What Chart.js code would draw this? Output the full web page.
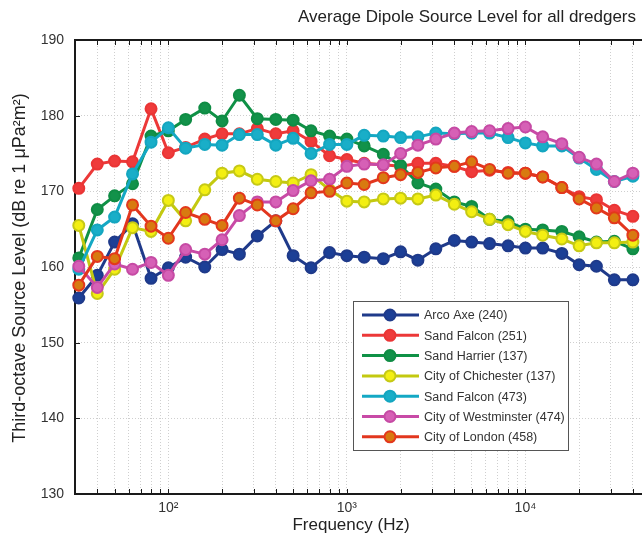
<!DOCTYPE html>
<html>
<head>
<meta charset="utf-8">
<script src="https://cdn.jsdelivr.net/npm/chart.js@4.4.1/dist/chart.umd.min.js"></script>
<style>
  html, body { margin: 0; padding: 0; background: #fff; overflow: hidden; }
  #wrap { width: 642px; height: 538px; position: relative; }
</style>
</head>
<body>
<div id="wrap"><canvas id="dipoleChart" width="642" height="538"></canvas></div>
<script>
// --- values (third-octave band centres, dB) ---
const frequencies = [31.5, 40, 50, 63, 80, 100, 125, 160, 200, 250, 315, 400, 500, 630, 800,
  1000, 1250, 1600, 2000, 2500, 3150, 4000, 5000, 6300, 8000, 10000, 12500, 16000, 20000, 25000, 31500, 40000];

const seriesNames = ['Arco Axe (240)', 'Sand Falcon (251)', 'Sand Harrier (137)', 'City of Chichester (137)',
  'Sand Falcon (473)', 'City of Westminster (474)', 'City of London (458)'];

const arcoAxe = [155.9, 158.9, 163.3, 165.7, 158.5, 159.9, 161.3, 160.0, 162.3, 161.7, 164.1, 166.1, 161.5, 159.9, 161.9,
  161.5, 161.3, 161.1, 162.0, 160.9, 162.4, 163.5, 163.3, 163.1, 162.8, 162.5, 162.5, 161.8, 160.3, 160.1, 158.3, 158.3];
const sandFalcon251 = [170.4, 173.6, 174.0, 173.9, 180.9, 175.1, 175.8, 176.9, 177.6, 177.6, 178.3, 177.6, 178.0, 176.6, 174.7,
  174.2, 173.7, 173.5, 173.3, 173.7, 173.7, 173.3, 172.6, 172.8, 172.5, 172.4, 171.9, 170.5, 169.3, 168.9, 167.5, 166.7];
const sandHarrier = [161.2, 167.6, 169.4, 171.0, 177.3, 178.0, 179.5, 181.0, 179.3, 182.7, 179.6, 179.5, 179.4, 178.0, 177.3,
  176.9, 176.0, 174.9, 173.4, 171.1, 170.3, 168.6, 168.0, 166.3, 166.0, 165.0, 164.9, 164.7, 164.0, 163.3, 163.4, 162.4];
const chichester = [165.5, 156.5, 159.7, 165.2, 164.7, 168.8, 166.1, 170.2, 172.4, 172.7, 171.6, 171.3, 171.1, 172.2, 170.2,
  168.7, 168.6, 169.0, 169.1, 169.0, 169.5, 168.3, 167.3, 166.3, 165.6, 164.7, 164.2, 163.7, 162.8, 163.2, 163.2, 163.3];
const sandFalcon473 = [159.7, 164.9, 166.6, 172.3, 176.5, 178.4, 175.7, 176.2, 176.1, 177.5, 177.5, 176.1, 177.0, 175.0, 176.2,
  176.2, 177.4, 177.3, 177.1, 177.2, 177.7, 177.6, 177.7, 177.7, 177.1, 176.4, 176.0, 176.0, 174.4, 172.9, 171.3, 172.0];
const westminster = [160.1, 157.3, 160.4, 159.7, 160.6, 158.9, 162.3, 161.7, 163.6, 166.8, 168.6, 168.6, 170.1, 171.4, 171.6,
  173.3, 173.6, 173.5, 175.0, 176.1, 176.9, 177.7, 177.9, 178.0, 178.3, 178.5, 177.2, 176.3, 174.5, 173.6, 171.3, 172.4];
const london = [157.6, 161.4, 161.1, 168.2, 165.4, 163.8, 167.2, 166.3, 165.5, 169.1, 168.2, 166.1, 167.7, 169.8, 170.0,
  171.1, 170.9, 171.8, 172.2, 172.5, 173.1, 173.3, 173.9, 172.9, 172.4, 172.4, 171.9, 170.5, 169.0, 167.8, 166.5, 164.2];

const seriesValues = [arcoAxe, sandFalcon251, sandHarrier, chichester, sandFalcon473, westminster, london];

// axis ticks / grid
const yTicks = [130, 140, 150, 160, 170, 180, 190];
const gridFreqs = [40, 50, 60, 70, 80, 90, 100, 200, 300, 400, 500, 600, 700, 800, 900,
  1000, 2000, 3000, 4000, 5000, 6000, 7000, 8000, 9000, 10000, 20000, 30000, 40000];
const decadeLabels = { 100: '10²', 1000: '10³', 10000: '10⁴' };

// --- styles ---
const FONT = "'Liberation Sans', Arial, sans-serif";
const seriesStyles = [
  { line: '#1f3a8a', face: '#1c3f96', edge: '#1f3a8a' },
  { line: '#ec3838', face: '#ef3b3b', edge: '#ea3535' },
  { line: '#0f9146', face: '#12924a', edge: '#0f8c44' },
  { line: '#c3c910', face: '#f3ef12', edge: '#c6c916' },
  { line: '#14a8c4', face: '#19aec8', edge: '#14a6c0' },
  { line: '#c84aa6', face: '#d660b6', edge: '#c64aa4' },
  { line: '#e2361e', face: '#d87a10', edge: '#e3381c' }
];

// box, inward ticks
const framePlugin = {
  id: 'frame',
  beforeDatasetsDraw(chart) {
    const { ctx, chartArea: a, scales } = chart;
    ctx.save();
    ctx.strokeStyle = '#1a1a1a';
    ctx.lineWidth = 1;
    scales.x.ticks.forEach(t => {
      const px = Math.round(scales.x.getPixelForValue(t.value)) + 0.5;
      ctx.beginPath();
      ctx.moveTo(px, a.bottom); ctx.lineTo(px, a.bottom - 5);
      ctx.moveTo(px, a.top); ctx.lineTo(px, a.top + 5);
      ctx.stroke();
    });
    scales.y.ticks.forEach(t => {
      const py = Math.round(scales.y.getPixelForValue(t.value)) + 0.5;
      ctx.beginPath();
      ctx.moveTo(a.left, py); ctx.lineTo(a.left + 5, py);
      ctx.stroke();
    });
    ctx.lineWidth = 2;
    ctx.beginPath();
    ctx.moveTo(a.right + 2, a.top); ctx.lineTo(a.left, a.top);
    ctx.lineTo(a.left, a.bottom); ctx.lineTo(a.right + 2, a.bottom);
    ctx.stroke();
    ctx.restore();
  }
};

// legend box inside the axes
const legendPlugin = {
  id: 'insideLegend',
  afterDatasetsDraw(chart) {
    const { ctx } = chart;
    const box = { x: 353.5, y: 301.5, w: 215, h: 149 };
    ctx.save();
    ctx.fillStyle = '#fff';
    ctx.fillRect(box.x, box.y, box.w, box.h);
    ctx.strokeStyle = '#555';
    ctx.lineWidth = 1;
    ctx.strokeRect(box.x, box.y, box.w, box.h);
    chart.data.datasets.forEach((ds, i) => {
      const cy = 315 + i * 20.3;
      ctx.strokeStyle = ds.borderColor;
      ctx.lineWidth = 3;
      ctx.beginPath();
      ctx.moveTo(362, cy); ctx.lineTo(419, cy);
      ctx.stroke();
      ctx.beginPath();
      ctx.arc(390, cy, 5.5, 0, Math.PI * 2);
      ctx.fillStyle = ds.pointBackgroundColor;
      ctx.fill();
      ctx.lineWidth = 2;
      ctx.strokeStyle = ds.pointBorderColor;
      ctx.stroke();
      ctx.fillStyle = '#333';
      ctx.font = '12.5px ' + FONT;
      ctx.textAlign = 'left';
      ctx.textBaseline = 'middle';
      ctx.fillText(ds.label, 424, cy + 1);
    });
    ctx.restore();
  }
};

// title and axis titles
const textPlugin = {
  id: 'texts',
  afterDraw(chart) {
    const { ctx } = chart;
    ctx.save();
    ctx.fillStyle = '#222';
    ctx.font = '17px ' + FONT;
    ctx.textBaseline = 'middle';
    ctx.textAlign = 'left';
    ctx.fillText('Average Dipole Source Level for all dredgers', 298, 17);
    ctx.textAlign = 'center';
    ctx.font = '17px ' + FONT;
    ctx.fillText('Frequency (Hz)', 351, 525);
    ctx.translate(20, 268);
    ctx.rotate(-Math.PI / 2);
    ctx.font = '18px ' + FONT;
    ctx.fillText('Third-octave Source Level (dB re 1 μPa²m²)', 0, 0);
    ctx.restore();
  }
};

const ctx = document.getElementById('dipoleChart').getContext('2d');
new Chart(ctx, {
  type: 'line',
  data: {
    datasets: seriesValues.map((vals, i) => ({
      label: seriesNames[i],
      data: frequencies.map((f, k) => ({ x: f, y: vals[k] })),
      borderColor: seriesStyles[i].line,
      backgroundColor: seriesStyles[i].face,
      pointBackgroundColor: seriesStyles[i].face,
      pointBorderColor: seriesStyles[i].edge,
      pointBorderWidth: 2,
      pointRadius: 5.5,
      borderWidth: 3,
      tension: 0,
      fill: false,
      clip: false,
      order: seriesNames.length - i
    }))
  },
  options: {
    responsive: false,
    animation: false,
    events: [],
    layout: { autoPadding: false, padding: { top: 40, right: 0, bottom: 0, left: 0 } },
    plugins: {
      legend: { display: false },
      title: { display: false },
      tooltip: { enabled: false }
    },
    scales: {
      x: {
        type: 'logarithmic',
        min: 30,
        max: 45000,
        afterBuildTicks: (scale) => { scale.ticks = gridFreqs.map(v => ({ value: v })); },
        afterFit: (scale) => { scale.height = 44; },
        grid: { color: '#cfcfcf', lineWidth: 1, drawTicks: false },
        border: { display: false, dash: [1, 2] },
        ticks: {
          autoSkip: false,
          maxRotation: 0,
          padding: 6,
          color: '#333',
          font: { family: FONT, size: 14 },
          callback: (v) => decadeLabels[v] || ''
        }
      },
      y: {
        min: 130,
        max: 190,
        afterBuildTicks: (scale) => { scale.ticks = yTicks.map(v => ({ value: v })); },
        afterFit: (scale) => { scale.width = 75; },
        grid: { color: '#cfcfcf', lineWidth: 1, drawTicks: false },
        border: { display: false, dash: [1, 2] },
        ticks: {
          padding: 11,
          color: '#333',
          font: { family: FONT, size: 14 },
          callback: (v) => String(v)
        }
      }
    }
  },
  plugins: [framePlugin, legendPlugin, textPlugin]
});
</script>
</body>
</html>
